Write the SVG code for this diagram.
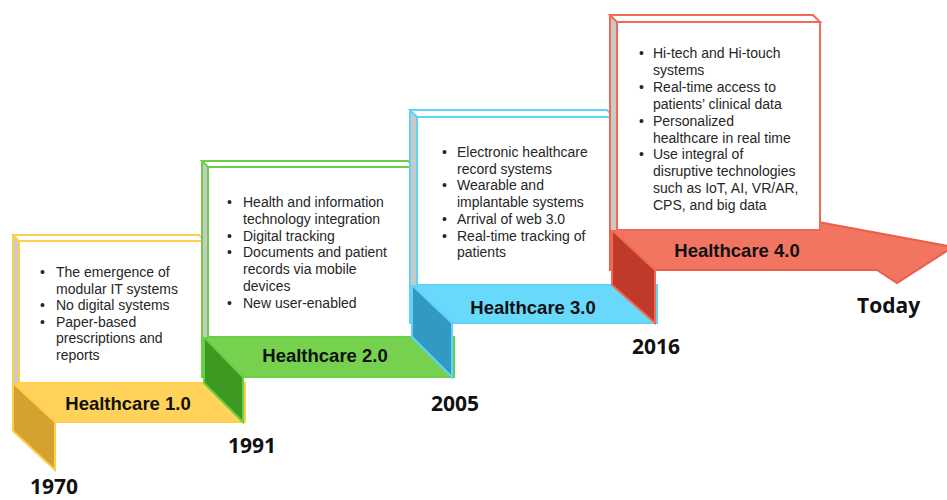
<svg xmlns="http://www.w3.org/2000/svg" width="947" height="500" viewBox="0 0 947 500">
<style>
.face{fill:#ffffff;stroke-width:2;stroke-linejoin:miter}
.side{fill:#c9c9c9}
.b{font-family:"Liberation Sans",Arial,sans-serif;font-size:14px;fill:#262626}
.h{font-family:"Liberation Sans",Arial,sans-serif;font-size:18.5px;font-weight:bold;fill:#111;text-anchor:middle}
.yr{font-family:"Open Sans","DejaVu Sans",sans-serif;font-size:21px;font-weight:bold;fill:#111}
.y1 .face,.y1 .band,.y1 .fold{stroke:#ffcf4a}
.y1 .band{fill:#ffd35a}
.y1 .fold{fill:#d5a232}
.y2 .face,.y2 .band,.y2 .fold{stroke:#6bcf46}
.y2 .band{fill:#76d24e}
.y2 .fold{fill:#3d9a20}
.y3 .face,.y3 .band,.y3 .fold{stroke:#5fd4f8}
.y3 .band{fill:#68d8fb}
.y3 .fold{fill:#3199c4}
.y4 .face,.y4 .band,.y4 .fold{stroke:#f26a55}
.y4 .band{fill:#f27561;stroke:#ec5f4a}
.y4 .fold{fill:#bf3a2a}
.band,.fold{stroke-width:2}
</style>

<g id="connectors"></g>

<g id="healthcare-1" class="y1">
  <rect class="band" x="13" y="383" width="232" height="39"/>
  <polygon class="fold" points="13,383 55,422 55,470 13,431"/>
  <polygon class="side" points="13,235 19,241 19,383 13,383"/>
  <polygon class="face" points="13,235 199,235 205,241 19,241"/>
  <rect class="face" x="19" y="241" width="186" height="142"/>
  <line x1="13" y1="235" x2="13" y2="383" stroke="#ffcf4a" stroke-width="2"/>
  <g class="b">
    <text x="40" y="277">•</text>
    <text x="40" y="310.2">•</text>
    <text x="40" y="326.8">•</text>
    <text x="56" y="277">The emergence of</text>
    <text x="56" y="293.6">modular IT systems</text>
    <text x="56" y="310.2">No digital systems</text>
    <text x="56" y="326.8">Paper-based</text>
    <text x="56" y="343.4">prescriptions and</text>
    <text x="56" y="360">reports</text>
  </g>
  <text class="h" x="128" y="410">Healthcare 1.0</text>
</g>

<g id="healthcare-2" class="y2">
  <rect class="band" x="202" y="337" width="252" height="40"/>
  <polygon class="fold" points="204,337 243,377 243,422 204,383"/>
  <polygon class="side" points="202,161 208,167 208,337 202,337"/>
  <polygon class="face" points="202,161 408,161 414,167 208,167"/>
  <rect class="face" x="208" y="167" width="206" height="170"/>
  <line x1="202" y1="161" x2="202" y2="337" stroke="#6bcf46" stroke-width="2"/>
  <g class="b">
    <text x="227" y="207">•</text>
    <text x="227" y="240.6">•</text>
    <text x="227" y="257.4">•</text>
    <text x="227" y="307.8">•</text>
    <text x="243" y="207">Health and information</text>
    <text x="243" y="223.8">technology integration</text>
    <text x="243" y="240.6">Digital tracking</text>
    <text x="243" y="257.4">Documents and patient</text>
    <text x="243" y="274.2">records via mobile</text>
    <text x="243" y="291">devices</text>
    <text x="243" y="307.8">New user-enabled</text>
  </g>
  <text class="h" x="325" y="362">Healthcare 2.0</text>
</g>

<g id="healthcare-3" class="y3">
  <rect class="band" x="410" y="285" width="247" height="38"/>
  <polygon class="fold" points="412,285 452,323 452,377 412,337"/>
  <polygon class="side" points="410,110 417,117 417,285 410,285"/>
  <polygon class="face" points="410,110 607,110 614,117 417,117"/>
  <rect class="face" x="417" y="117" width="197" height="168"/>
  <line x1="410" y1="110" x2="410" y2="285" stroke="#5fd4f8" stroke-width="2"/>
  <g class="b">
    <text x="442" y="157">•</text>
    <text x="442" y="190.4">•</text>
    <text x="442" y="223.8">•</text>
    <text x="442" y="240.5">•</text>
    <text x="457" y="157">Electronic healthcare</text>
    <text x="457" y="173.7">record systems</text>
    <text x="457" y="190.4">Wearable and</text>
    <text x="457" y="207.1">implantable systems</text>
    <text x="457" y="223.8">Arrival of web 3.0</text>
    <text x="457" y="240.5">Real-time tracking of</text>
    <text x="457" y="257.2">patients</text>
  </g>
  <text class="h" x="533" y="314">Healthcare 3.0</text>
</g>

<g id="healthcare-4" class="y4">
  <polygon class="band" points="610,230 818,230 818,222 953,247 897,283 877,270 610,270"/>
  <polygon class="fold" points="612,230 655,270 655,323 612,285"/>
  <polygon class="side" points="610,15 617,22 617,230 610,230"/>
  <polygon class="face" points="610,15 813,15 820,22 617,22"/>
  <rect class="face" x="617" y="22" width="203" height="208"/>
  <line x1="610" y1="15" x2="610" y2="230" stroke="#f26a55" stroke-width="2"/>
  <g class="b">
    <text x="639" y="58">•</text>
    <text x="639" y="91.8">•</text>
    <text x="639" y="125.6">•</text>
    <text x="639" y="159.4">•</text>
    <text x="653" y="58">Hi-tech and Hi-touch</text>
    <text x="653" y="74.9">systems</text>
    <text x="653" y="91.8">Real-time access to</text>
    <text x="653" y="108.7">patients’ clinical data</text>
    <text x="653" y="125.6">Personalized</text>
    <text x="653" y="142.5">healthcare in real time</text>
    <text x="653" y="159.4">Use integral of</text>
    <text x="653" y="176.3">disruptive technologies</text>
    <text x="653" y="193.2">such as IoT, AI, VR/AR,</text>
    <text x="653" y="210.1">CPS, and big data</text>
  </g>
  <text class="h" x="737" y="257">Healthcare 4.0</text>
</g>

<g id="years">
  <text class="yr" x="30" y="494">1970</text>
  <text class="yr" x="228" y="453">1991</text>
  <text class="yr" x="431" y="411">2005</text>
  <text class="yr" x="632" y="354">2016</text>
  <text class="yr" x="857" y="313">Today</text>
</g>
</svg>
